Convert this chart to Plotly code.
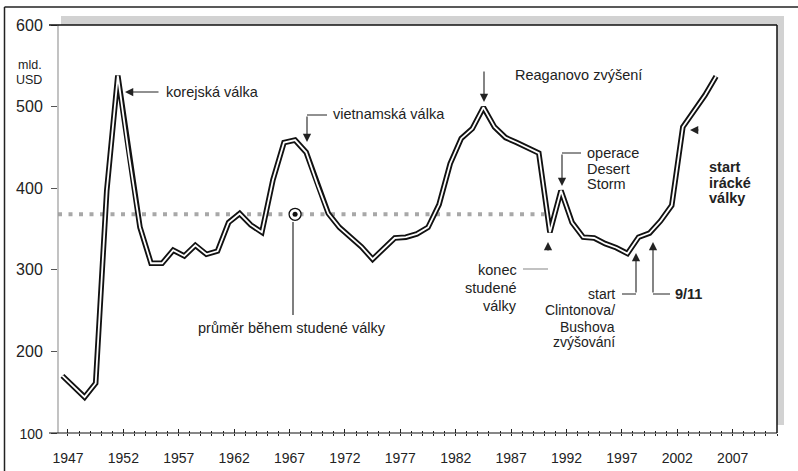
import plotly.graph_objects as go

# ---------------- data ----------------
years = list(range(1946, 2006))
spending = [170, 157, 144, 161, 397, 538, 440, 352, 308, 308,
            324, 317, 330, 319, 323, 358, 369, 355, 346, 410,
            456, 459, 444, 405, 369, 352, 340, 328, 313, 326,
            339, 340, 344, 352, 380, 430, 461, 473, 499, 475,
            462, 456, 450, 443, 346, 397, 358, 340, 339, 332,
            327, 320, 340, 345, 360, 379, 475, 494, 514, 537]
cold_war_avg = 368
cold_war_end = 1990
avg_marker_year = 1967
x_tick_years = list(range(1947, 2008, 5))
y_tick_vals = [100, 200, 300, 400, 500, 600]
y_tick_text = ['<span style="font-size:14px">100</span>', '200', '300', '400', '500', '600']

# ---------------- geometry ----------------
W_FIG, H_FIG = 798, 471
L, T, R, B = 58, 25, 777, 433
PW, PH = R - L, B - T
X_RANGE = [1946.1, 2011.0]
Y_RANGE = [100, 600]
FONT = "Liberation Sans, Arial, Helvetica, sans-serif"
INK = "#222222"

def px(x):
    return (x - L) / PW

def py(y):
    return (B - y) / PH

xs = [y + 0.5 for y in years]  # plotted at mid-year

fig = go.Figure()

# average line (dotted, gray)
fig.add_trace(go.Scatter(x=[X_RANGE[0], cold_war_end], y=[cold_war_avg, cold_war_avg],
                         mode="lines", line=dict(color="#a8a8a8", width=4, dash="4px,6.5px"),
                         hoverinfo="skip", showlegend=False))
# double line: black outer + white inner
fig.add_trace(go.Scatter(x=xs, y=spending, mode="lines",
                         line=dict(color="#111111", width=5.5), hoverinfo="skip", showlegend=False))
fig.add_trace(go.Scatter(x=xs, y=spending, mode="lines",
                         line=dict(color="white", width=1.8), hoverinfo="skip", showlegend=False))
# average marker
fig.add_trace(go.Scatter(x=[avg_marker_year + 0.5], y=[cold_war_avg], mode="markers",
                         marker=dict(size=12, color="white", line=dict(color="#111", width=1.3)),
                         hoverinfo="skip", showlegend=False))
fig.add_trace(go.Scatter(x=[avg_marker_year + 0.5], y=[cold_war_avg], mode="markers",
                         marker=dict(size=5, color="#111"), hoverinfo="skip", showlegend=False))
# dummy trace for overlay axis ticks
fig.add_trace(go.Scatter(x=[X_RANGE[0]], y=[None], xaxis="x2", yaxis="y", mode="lines",
                         hoverinfo="skip", showlegend=False))

shapes = []
# shadow and white plot area
shapes.append(dict(type="rect", xref="paper", yref="paper", x0=px(61), x1=px(784), y0=py(425), y1=py(16),
                   fillcolor="#d2d2d2", line=dict(width=0), layer="below"))
shapes.append(dict(type="rect", xref="paper", yref="paper", x0=0, x1=1, y0=0, y1=1,
                   fillcolor="white", line=dict(width=0), layer="below"))

def seg(x0, y0, x1, y1, color=INK, width=1.0):
    shapes.append(dict(type="line", xref="paper", yref="paper", x0=px(x0), y0=py(y0), x1=px(x1), y1=py(y1),
                       line=dict(color=color, width=width)))

# frame lines
seg(L, T, L, B, "#9a9a9a", 1.2)
seg(49, T, R, T, "#111", 1.5)
seg(R, T, R, B, "#111", 1.5)
seg(49, B, R, B, "#111", 1.2)
# outer border
seg(4.5, 7, 4.5, 471, "#222", 1.5)
seg(4.5, 7, 798, 7, "#222", 1.5)

# callout elbows
seg(307, 115, 327, 115)          # vietnam
seg(562, 153, 581, 153)          # desert storm
seg(523, 269, 548, 269, "#9a9a9a", 1.2)  # konec
seg(622, 294, 636, 294)          # clinton
seg(653, 294, 670, 294)          # 9/11
# average pointer line
seg(293, 222, 293, 315, "#555", 1.5)

annotations = []

def text(t, x, y, anchor="left", size=14.5, bold=False):
    if bold:
        t = "<b>" + t + "</b>"
    annotations.append(dict(text=t, xref="paper", yref="paper", x=px(x), y=py(y),
                            xanchor=anchor, yanchor="middle", showarrow=False, borderpad=0,
                            font=dict(family=FONT, size=size, color=INK)))

def lines(ts, x, ys, anchor="left", size=14.5, bold=False):
    for t, y in zip(ts, ys):
        text(t, x, y, anchor, size, bold)

def arrow(tipx, tipy, tailx, taily):
    annotations.append(dict(text="", xref="paper", yref="paper", x=px(tipx), y=py(tipy),
                            ax=tailx - tipx, ay=taily - tipy, axref="pixel", ayref="pixel",
                            showarrow=True, arrowhead=2, arrowsize=1.5, arrowwidth=1.1,
                            arrowcolor=INK))

# y unit label
text("mld.", 43, 65, "right", 12.5)
text("USD", 43, 80, "right", 12.5)

# korean war
arrow(125, 92, 160, 92)
text("korejská válka", 165, 92)
# vietnam
arrow(307, 142, 307, 115)
text("vietnamská válka", 332, 114)
# reagan
arrow(484, 102, 484, 70)
text("Reaganovo zvýšení", 514, 75)
# desert storm
arrow(562, 186, 562, 153)
lines(["operace", "Desert", "Storm"], 586, [153, 169, 184])
# end of cold war
arrow(548, 242, 548, 252)
lines(["konec", "studené", "války"], 518, [270, 288, 306], "right")
# clinton/bush
arrow(636, 253, 636, 294)
lines(["start", "Clintonova/", "Bushova", "zvýšování"], 616, [294, 310, 327, 342], "right", 14)
# 9/11
arrow(653, 242, 653, 294)
text("9/11", 674, 294, bold=True)
# iraq
arrow(690, 130, 700, 130)
lines(["start", "irácké", "války"], 708, [167, 183, 198], bold=True)
# average label
text("průměr během studené války", 292, 328, "center")

fig.update_layout(
    width=W_FIG, height=H_FIG,
    margin=dict(l=L, r=W_FIG - R, t=T, b=H_FIG - B, pad=0, autoexpand=False),
    paper_bgcolor="white", plot_bgcolor="rgba(0,0,0,0)",
    font=dict(family=FONT, color=INK),
    shapes=shapes, annotations=annotations,
    xaxis=dict(range=X_RANGE, showgrid=False, zeroline=False, showline=False, automargin=False,
               tickmode="array", tickvals=x_tick_years, ticktext=[str(v) for v in x_tick_years],
               ticks="outside", ticklen=2, tickcolor="#222", tickwidth=1,
               tickfont=dict(size=14, color=INK), ticklabelstandoff=10,
               minor=dict(dtick=1, tick0=1947, ticks="outside", ticklen=2, tickcolor="#222", tickwidth=1)),
    xaxis2=dict(range=X_RANGE, overlaying="x", anchor="y", side="bottom", showgrid=False, zeroline=False,
                showline=False, showticklabels=False, tick0=1947, dtick=5, automargin=False,
                ticks="inside", ticklen=4, tickcolor="#222", tickwidth=1,
                minor=dict(dtick=1, tick0=1947, ticks="inside", ticklen=2.5, tickcolor="#222", tickwidth=1)),
    yaxis=dict(range=Y_RANGE, showgrid=False, zeroline=False, showline=False, automargin=False,
               tickmode="array", tickvals=y_tick_vals, ticktext=y_tick_text,
               ticks="outside", ticklen=6, tickcolor="#555", tickwidth=1,
               tickfont=dict(size=16, color=INK), ticklabelstandoff=5),
    showlegend=False,
)

fig.write_html("out.html", config={"displayModeBar": False},
               post_script="document.body.style.margin='0';document.body.style.padding='0';")
